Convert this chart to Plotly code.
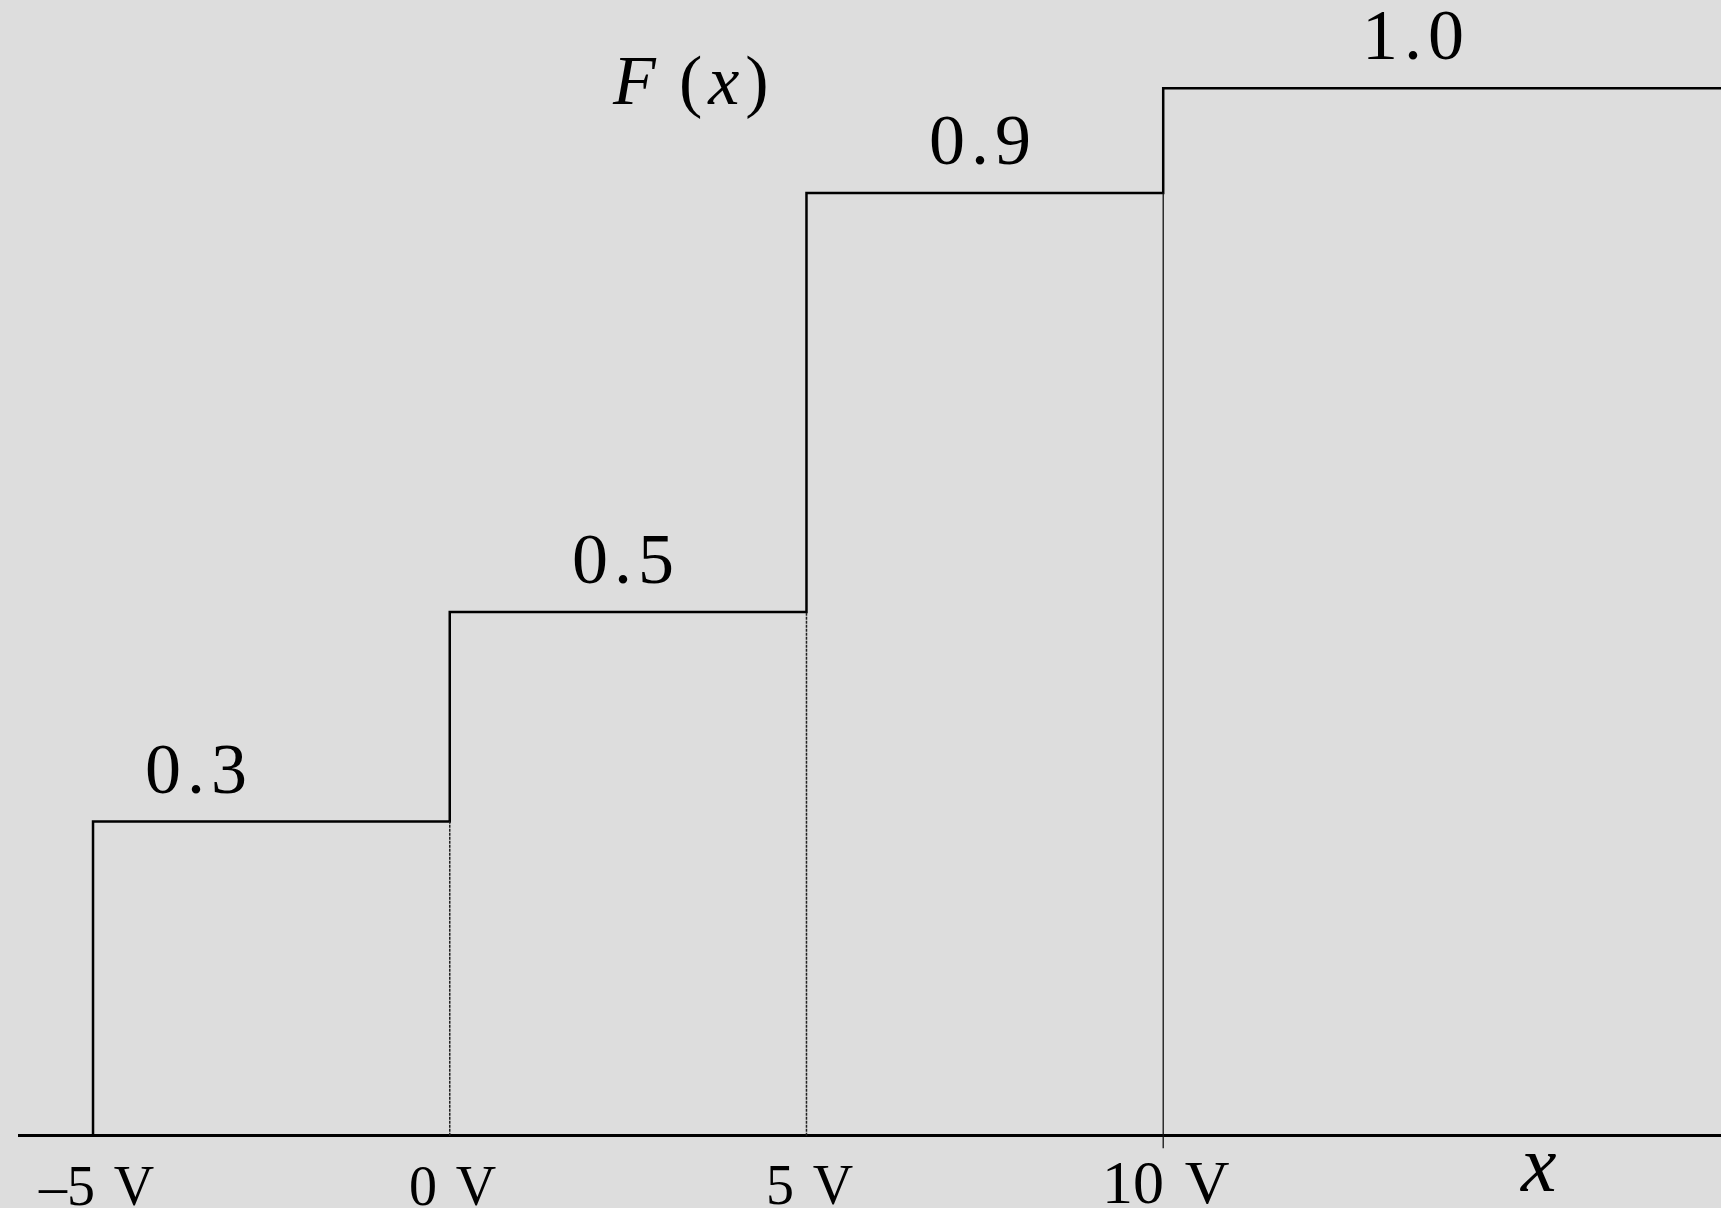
import plotly.graph_objects as go

# ---- data ----
step_x = [-5, 0, 5, 10]            # jump points (V)
F_vals = [0.3, 0.5, 0.9, 1.0]      # F(x) after each jump
value_text = ["0.3", "0.5", "0.9", "1.0"]
label_x = [-3.55, 2.43, 7.43, 13.5]   # where each value label sits (x units)
tick_text = ["\u20135\u00a0\u200aV", "0\u00a0\u200aV", "5\u00a0\u200aV", "10\u00a0\u200aV"]

# ---- layout constants ----
W, H = 1721, 1208
x_range = [-6.0515, 17.818]
y_range = [-0.069, 1.0843]
SERIF = "Liberation Serif, Times New Roman, serif"
BG = "#dddddd"
HAIR = "\u200a"

fig = go.Figure()

# step function
sx = [step_x[0]] + step_x + [x_range[1]]
sy = [0] + F_vals + [F_vals[-1]]
fig.add_trace(go.Scatter(x=sx, y=sy, mode="lines", line_shape="hv",
                         line=dict(color="black", width=2.5),
                         hoverinfo="skip", showlegend=False))

# dotted guide lines under jumps at 0 and 5
for i in (1, 2):
    fig.add_trace(go.Scatter(x=[step_x[i], step_x[i]], y=[0, F_vals[i - 1]],
                             mode="lines",
                             line=dict(color="#222222", width=1.5, dash="3px,1px"),
                             hoverinfo="skip", showlegend=False))

# thin solid line under jump at 10 (slightly crossing the axis)
tick_len = 0.012
fig.add_trace(go.Scatter(x=[step_x[3], step_x[3]], y=[F_vals[2], -tick_len],
                         mode="lines", line=dict(color="#111111", width=1.3),
                         hoverinfo="skip", showlegend=False))

# value labels
def spaced(t):
    return HAIR.join(list(t))

for xv, yv, t in zip(label_x, F_vals, value_text):
    fig.add_annotation(x=xv, y=yv, text=spaced(t), showarrow=False,
                       xanchor="center", yanchor="bottom", yshift=11,
                       font=dict(family=SERIF, size=72, color="black"))

# tick labels
tick_sizes = [56, 56, 56, 62]
tick_shift = [-17, -17, -16, -10]
for xv, t, s, ys in zip(step_x, tick_text, tick_sizes, tick_shift):
    fig.add_annotation(x=xv, y=0, text=t, showarrow=False,
                       xanchor="center", yanchor="top", xshift=3, yshift=ys,
                       font=dict(family=SERIF, size=s, color="black"))

# axis titles
fig.add_annotation(xref="paper", yref="paper", x=(690 - 18) / (W - 18), y=0.900,
                   text="<i>F</i>\u00a0\u200a(" + HAIR + "<i>x</i>" + HAIR + ")",
                   showarrow=False, xanchor="center", yanchor="bottom",
                   font=dict(family=SERIF, size=70, color="black"))
fig.add_annotation(xref="paper", yref="paper", x=(1538 - 18) / (W - 18), y=0,
                   text="<i>x</i>", showarrow=False,
                   xanchor="center", yanchor="bottom", yshift=-2,
                   font=dict(family=SERIF, size=80, color="black"))

fig.update_layout(
    width=W, height=H,
    margin=dict(l=18, r=0, t=0, b=0),
    paper_bgcolor=BG, plot_bgcolor=BG,
    xaxis=dict(range=x_range, showgrid=False, zeroline=False,
               showticklabels=False, showline=False, ticks=""),
    yaxis=dict(range=y_range, showgrid=False, zeroline=True,
               zerolinecolor="black", zerolinewidth=2.5,
               showticklabels=False, showline=False, ticks=""),
    showlegend=False,
)

fig.write_html("out.html",
               config={"displayModeBar": False},
               post_script="document.body.style.margin='0';"
                           "document.body.style.background='" + BG + "';")
